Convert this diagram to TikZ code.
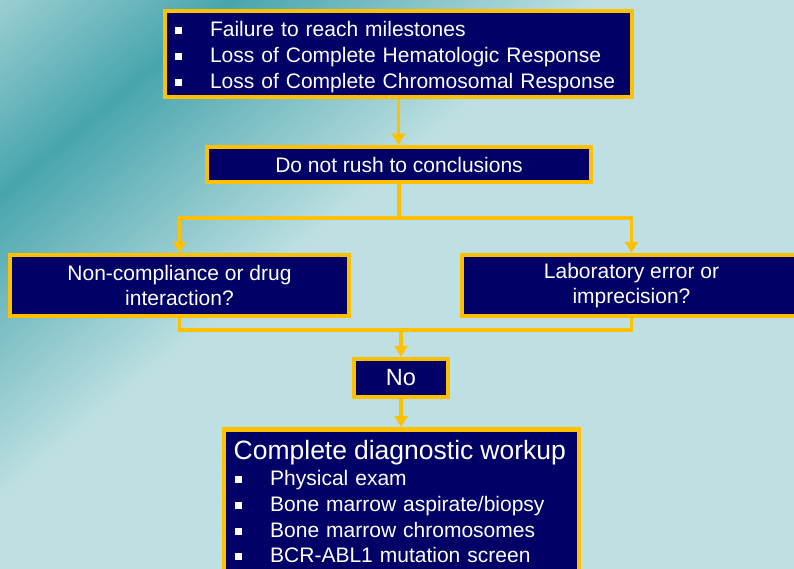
\documentclass[tikz,border=0pt]{standalone}
\usepackage{fontspec}
\setmainfont{Liberation Sans}
\usetikzlibrary{arrows.meta}
\definecolor{navy}{RGB}{0,0,102}
\definecolor{edgeyel}{RGB}{255,192,0}
\definecolor{tealdark}{RGB}{72,165,173}
\definecolor{teallight}{RGB}{190,224,226}
\newcommand\bul{\makebox[35pt][l]{\rule[2.5pt]{6.5pt}{7pt}}}
\begin{document}
\begin{tikzpicture}[x=1pt,y=-1pt,
  box/.style={draw=edgeyel, line width=4.5pt, fill=navy, text=white, inner sep=0pt,
    align=center, font=\fontsize{21}{25.2}\selectfont},
  conn/.style={draw=edgeyel, line width=3.5pt},
  arr/.style={conn, -{Triangle[width=13pt,length=11pt]}},
  ]
\useasboundingbox (0,0) rectangle (794,569);
\clip (0,0) rectangle (794,569);
\fill[teallight] (0,0) rectangle (794,569);
\begin{scope}[shift={(100,110)}, rotate=-50]
\foreach \s in {-240,-236,...,260} {
  \pgfmathtruncatemacro\p{\s>=0 ? max(0,100*(1-\s/235)) : max(0,100*(1+\s/215))}
  \fill[tealdark!\p!teallight] (\s,-1200) rectangle (\s+5,1200);
}
\end{scope}

\node[box, minimum width=467pt, minimum height=86pt, text width=447pt, align=left,
  inner xsep=10pt, font=\fontsize{21}{26.1}\selectfont] (top) at (398.5,54)
  {\rule{0pt}{21.3pt}\bul Failure to reach milestones\\ \bul Loss of Complete Hematologic Response\\ \bul Loss of Complete Chromosomal Response};
\node[box, minimum width=384pt, minimum height=35pt] (mid) at (399,164.5) {Do not rush to conclusions};
\node[box, minimum width=339pt, minimum height=61pt] (left) at (179.5,285.5) {Non-compliance or drug\\interaction?};
\node[box, minimum width=339pt, minimum height=61pt] (right) at (631.5,285.5) {Laboratory error or\\imprecision?};
\node[box, minimum width=94pt, minimum height=38pt, font=\fontsize{23.5}{28}\selectfont] (no) at (401,378) {No};
\node[box, minimum width=355pt, minimum height=180pt, anchor=north] (work) at (401.5,427) {};
\node[text=white, anchor=north west, inner sep=0pt, text width=340pt, align=left,
  font=\fontsize{21}{25.7}\selectfont] (worktext) at (233.5,440.5)
  {{\fontsize{26.5}{25.7}\selectfont Complete diagnostic workup}\\
   \hspace*{1.5pt}\bul Physical exam\\
   \hspace*{1.5pt}\bul Bone marrow aspirate/biopsy\\
   \hspace*{1.5pt}\bul Bone marrow chromosomes\\
   \hspace*{1.5pt}\bul BCR-ABL1 mutation screen};

\draw[arr] (top.south) -- (top.south |- mid.north);
\coordinate (j1) at (399,218);
\draw[conn] (mid.south) -- (j1);
\draw[arr] (j1) -| (left.north);
\draw[arr] (j1) -| (right.north);
\coordinate (j2) at (401,330);
\draw[conn] (left.south) |- (j2) -| (right.south);
\draw[arr] (j2) -- (no.north);
\draw[arr] (no.south) -- (no.south |- work.north);
\end{tikzpicture}
\end{document}
